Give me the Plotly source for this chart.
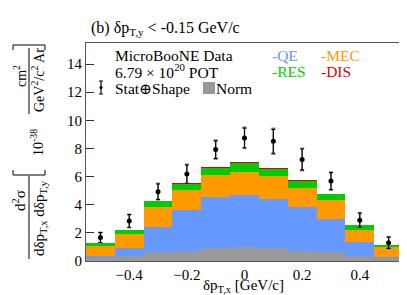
import plotly.graph_objects as go

# ---------------- data ----------------
bin_centers = [-0.5, -0.4, -0.3, -0.2, -0.1, 0.0, 0.1, 0.2, 0.3, 0.4, 0.5]
qe   = [0.33, 0.94, 2.45, 3.61, 4.55, 4.72, 4.41, 3.82, 3.00, 1.32, 0.31]
mec  = [0.71, 0.97, 1.39, 1.41, 1.56, 1.62, 1.60, 1.39, 1.32, 0.90, 0.66]
res  = [0.21, 0.30, 0.40, 0.46, 0.49, 0.62, 0.54, 0.50, 0.41, 0.32, 0.17]
dis  = [0.02, 0.03, 0.05, 0.06, 0.07, 0.09, 0.08, 0.07, 0.06, 0.03, 0.02]
norm = [0.21, 0.33, 0.64, 0.73, 0.90, 1.01, 0.90, 0.73, 0.64, 0.33, 0.21]
data = [1.67, 2.85, 4.93, 6.18, 7.92, 8.75, 8.51, 7.22, 5.68, 2.90, 1.30]
err_stat_shape = [0.35, 0.45, 0.55, 0.65, 0.62, 0.70, 0.85, 0.74, 0.60, 0.50, 0.40]
err_total = [0.38, 0.48, 0.60, 0.70, 0.68, 0.76, 0.92, 0.80, 0.65, 0.54, 0.43]
x_tickvals = [-0.4, -0.2, 0, 0.2, 0.4]
x_ticktext = ["\u22120.4", "\u22120.2", "0", "0.2", "0.4"]
y_tickvals = [0, 2, 4, 6, 8, 10, 12, 14]

C_QE, C_MEC, C_RES, C_DIS, C_NORM = "#6699ff", "#ff9900", "#00cc00", "#dd0000", "#999999"
FONT = "Liberation Serif, Times New Roman, DejaVu Serif, serif"

W, H = 407, 295
L, R, T, B = 78, 12, 35, 42
PW, PH = W - L - R, H - T - B

def px(x):
    return (x - L) / PW

def py(y):
    return (H - B - y) / PH

# cumulative stack
c_qe = qe
c_mec = [a + b for a, b in zip(c_qe, mec)]
c_res = [a + b for a, b in zip(c_mec, res)]
c_dis = [a + b for a, b in zip(c_res, dis)]

fig = go.Figure()
for vals, col in [(c_dis, C_DIS), (c_res, C_RES), (c_mec, C_MEC), (c_qe, C_QE), (norm, C_NORM)]:
    fig.add_trace(go.Bar(x=bin_centers, y=vals, width=0.1, marker=dict(color=col, line=dict(width=0)),
                         showlegend=False, hoverinfo="skip"))

fig.add_trace(go.Scatter(x=bin_centers, y=data, mode="markers", marker=dict(size=1, color="rgba(0,0,0,0)"),
                         error_y=dict(type="data", array=err_total, color="#888888", thickness=1.5, width=2),
                         showlegend=False))
fig.add_trace(go.Scatter(x=bin_centers, y=data, mode="markers", marker=dict(size=5, color="black"),
                         error_y=dict(type="data", array=err_stat_shape, color="black", thickness=1.1, width=2),
                         showlegend=False))

fig.update_layout(
    width=W, height=H, margin=dict(l=L, r=R, t=T, b=B),
    paper_bgcolor="white", plot_bgcolor="white",
    barmode="overlay", bargap=0,
    font=dict(family=FONT, size=15, color="black"),
    showlegend=False,
)
fig.update_xaxes(range=[-0.55, 0.55], tickvals=x_tickvals, ticktext=x_ticktext, ticks="",
                 showgrid=False, zeroline=False, showline=True, mirror=True, linecolor="#555555",
                 linewidth=1, tickfont=dict(family=FONT, size=15))
fig.update_yaxes(range=[0, 15.5], tickvals=y_tickvals, ticks="inside", ticklen=8, tickcolor="#333333",
                 showgrid=False, zeroline=False, showline=True, mirror=True, linecolor="#555555",
                 linewidth=1, tickfont=dict(family=FONT, size=15))

ann = []
def text(x, y, s, size=15, color="black", xanchor="left", angle=0):
    ann.append(dict(x=px(x), y=py(y), xref="paper", yref="paper", text=s, showarrow=False,
                    xanchor=xanchor, yanchor="middle", textangle=angle,
                    font=dict(family=FONT, size=size, color=color)))

# title
text(81, 21, "(b) \u03b4p<sub>T,y</sub> &lt; -0.15 GeV/c", size=16)
# legend texts
text(105, 47, "MicroBooNE Data", size=15.5)
text(105, 63, "6.79 \u00d7 10<sup>20</sup> POT", size=15.5)
text(105, 80, "Stat\u2295Shape", size=15.5)
text(206, 80, "Norm", size=15.5)
text(262, 47, "-QE", size=15.5, color=C_QE)
text(311, 47, "-MEC", size=15.5, color=C_MEC)
text(262, 63, "-RES", size=15.5, color=C_RES)
text(311, 63, "-DIS", size=15.5, color=C_DIS)
# x title
text(235, 278, "\u03b4p<sub>T,x</sub> [GeV/c]", size=15, xanchor="center")
# y title pieces (rotated)
text(11, 193, "d<sup>2</sup>\u03c3", size=15, xanchor="center", angle=-90)
text(32, 210, "d\u03b4p<sub>T,x</sub> d\u03b4p<sub>T,y</sub>", size=15, xanchor="center", angle=-90)
text(29, 135, "10<sup>-38</sup>", size=14, xanchor="center", angle=-90)
text(12, 68, "cm<sup>2</sup>", size=14, xanchor="center", angle=-90)
text(30, 72, "GeV<sup>2</sup>/c<sup>2</sup> Ar", size=14, xanchor="center", angle=-90)
fig.update_layout(annotations=ann)

shapes = []
def line(x0, y0, x1, y1, color="black", width=1):
    shapes.append(dict(type="line", xref="paper", yref="paper", x0=px(x0), y0=py(y0), x1=px(x1), y1=py(y1),
                       line=dict(color=color, width=width)))
# fraction lines
line(21, 168, 21, 251)
line(21, 40, 21, 106)
# brackets
line(5, 167, 37, 167); line(5, 167, 5, 162); line(37, 167, 37, 162)
line(5, 37, 37, 37); line(5, 37, 5, 42); line(37, 37, 37, 42)
# legend error-bar icon
line(93, 73, 93, 86, width=1.2)
line(91, 73, 95, 73); line(91, 86, 95, 86)
shapes.append(dict(type="circle", xref="paper", yref="paper", x0=px(91.5), x1=px(94.5), y0=py(78), y1=py(81),
                   fillcolor="black", line=dict(width=0)))
# norm box
shapes.append(dict(type="rect", xref="paper", yref="paper", x0=px(195), x1=px(207), y0=py(74), y1=py(86),
                   fillcolor=C_NORM, line=dict(width=0)))
fig.update_layout(shapes=shapes)

fig.write_html("out.html")
